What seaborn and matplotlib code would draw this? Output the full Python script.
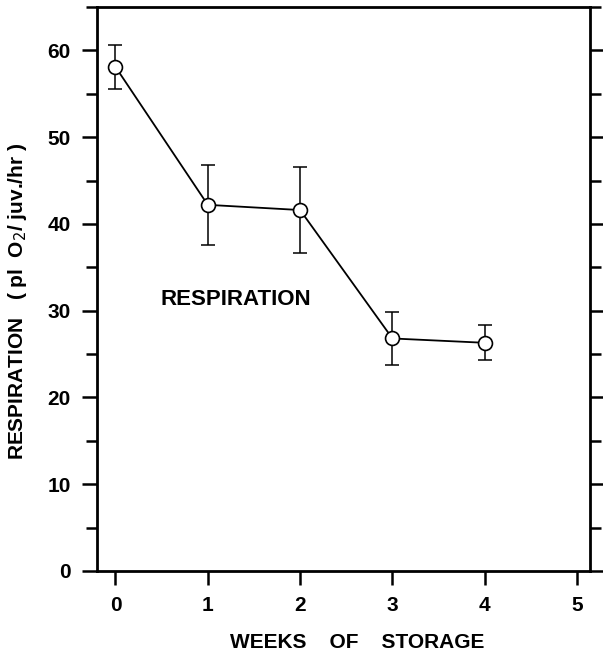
import numpy as np
import pandas as pd
import matplotlib
matplotlib.use("Agg")
import matplotlib.pyplot as plt
import seaborn as sns
from matplotlib.ticker import MultipleLocator

# valores
semanas = [0, 1, 2, 3, 4]
respiracao = [58.1, 42.2, 41.6, 26.8, 26.3]
erro = [2.5, 4.6, 5.0, 3.1, 2.0]
x_ticks = [0, 1, 2, 3, 4, 5]
y_ticks = [0, 10, 20, 30, 40, 50, 60]

sns.set_theme(style="ticks")
plt.rcParams['font.family'] = ['Liberation Sans', 'DejaVu Sans']

df = pd.DataFrame({'semana': semanas, 'resp': respiracao, 'erro': erro})

fig = plt.figure(figsize=(6.03, 6.58), dpi=100)
ax = fig.add_axes([97 / 603, 1 - 571 / 658, (590 - 97) / 603, (571 - 7) / 658])

ax.errorbar(df['semana'], df['resp'], yerr=df['erro'], fmt='none',
            ecolor='black', elinewidth=1.1, capsize=5, capthick=1.1, zorder=2)
sns.lineplot(data=df, x='semana', y='resp', ax=ax, color='black', linewidth=1.3,
             marker='o', markersize=10, markerfacecolor='white',
             markeredgecolor='black', markeredgewidth=1.2, zorder=3)

ax.set_xlim(-0.2, 5.14)
ax.set_ylim(0, 65)
ax.set_xticks(x_ticks)
ax.set_yticks(y_ticks)
ax.yaxis.set_minor_locator(MultipleLocator(5))

for lado in ['left', 'right', 'top', 'bottom']:
    ax.spines[lado].set_linewidth(2)
    ax.spines[lado].set_color('black')

ax.tick_params(axis='y', which='both', direction='out', left=True, right=True,
               length=11, width=1.8, labelsize=15, pad=8, colors='black')
ax.tick_params(axis='y', which='minor', length=8)
ax.tick_params(axis='x', which='major', direction='out', length=10, width=1.8,
               labelsize=15, pad=8, colors='black')
for lbl in ax.get_xticklabels() + ax.get_yticklabels():
    lbl.set_fontweight('bold')

ax.set_xlabel('')
ax.set_ylabel('')
fig.text(357 / 603, 1 - 643 / 658, 'WEEKS    OF    STORAGE', fontsize=15,
         fontweight='bold', color='black', ha='center', va='center')
fig.text(18 / 603, 1 - 301 / 658, 'RESPIRATION   ( pl  O$_2$/ juv./hr )', fontsize=15,
         fontweight='bold', color='black', ha='center', va='center', rotation=90)
ax.text(0.49, 31.3, 'RESPIRATION', fontsize=16, fontweight='bold', color='black',
        va='center')

fig.savefig('out.png', dpi=100)
